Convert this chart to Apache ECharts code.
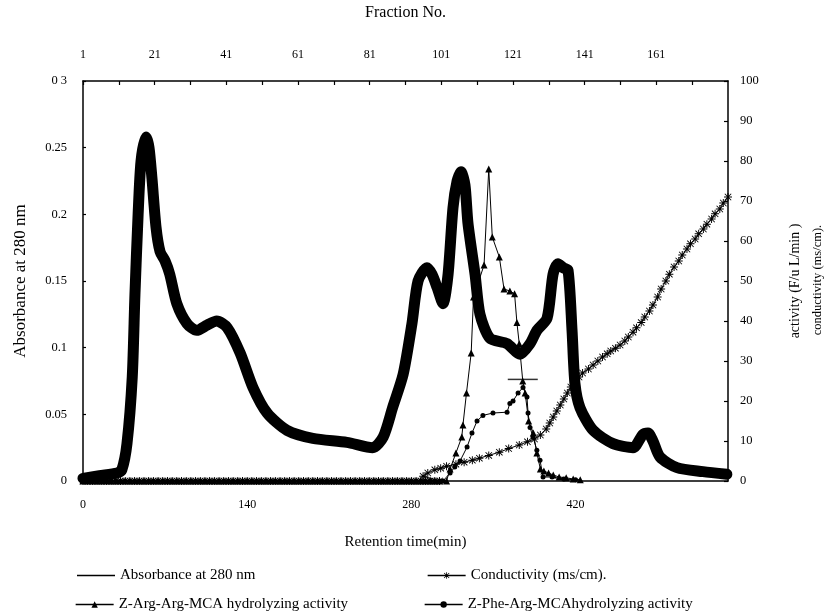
<!DOCTYPE html>
<html><head><meta charset="utf-8">
<script src="https://cdn.jsdelivr.net/npm/echarts@6/dist/echarts.min.js"></script>
<style>html,body{margin:0;padding:0;background:#fff}#c{width:830px;height:616px}</style>
</head><body><div id="c"></div>
<script>
// Absorbance at 280 nm (left axis) vs retention time (min)
const absTime  = [0, 14, 29, 33, 37.5, 42, 44.3, 47, 49.5, 53.7, 56.3, 58.8, 62.3, 65.7, 70, 74, 80, 88.7, 97, 106, 114, 123, 134, 145, 157, 174, 196, 225, 247, 256, 264, 273, 280.5, 285.7, 293.3, 297.6, 302, 307, 311.3, 315.5, 319, 322.3, 325.7, 328.3, 334.3, 338.5, 347, 361.6, 372.6, 381.2, 387.1, 395.7, 400.8, 405, 409.3, 413.6, 417, 419.5, 423.8, 435, 452, 469, 477.5, 481.8, 486, 492, 506.5, 528.7, 549];
const absValue = [0.002, 0.004, 0.006, 0.008, 0.028, 0.078, 0.14, 0.2, 0.24, 0.258, 0.25, 0.227, 0.19, 0.172, 0.165, 0.155, 0.133, 0.118, 0.113, 0.117, 0.12, 0.115, 0.096, 0.07, 0.051, 0.038, 0.032, 0.029, 0.025, 0.033, 0.055, 0.08, 0.118, 0.15, 0.16, 0.155, 0.145, 0.133, 0.155, 0.205, 0.225, 0.232, 0.222, 0.193, 0.155, 0.125, 0.107, 0.103, 0.095, 0.103, 0.113, 0.122, 0.155, 0.163, 0.16, 0.158, 0.113, 0.073, 0.055, 0.038, 0.028, 0.025, 0.035, 0.036, 0.03, 0.018, 0.01, 0.007, 0.005];

// Fraction times where activities / conductivity were zero
const zeroTimes = [0, 4, 8, 12, 16, 20, 24, 28, 32, 36, 40, 44, 48, 52, 56, 60, 64, 68, 72, 76, 80, 84, 88, 92, 96, 100, 104, 108, 112, 116, 120, 124, 128, 132, 136, 140, 144, 148, 152, 156, 160, 164, 168, 172, 176, 180, 184, 188, 192, 196, 200, 204, 208, 212, 216, 220, 224, 228, 232, 236, 240, 244, 248, 252, 256, 260, 264, 268, 272, 276, 280, 284, 288, 292, 296, 300, 304];

// Z-Arg-Arg-MCA hydrolyzing activity (right axis)
const argTime  = [310, 313, 318, 323, 324, 327, 331, 333, 342, 346, 349, 355, 359, 364, 368, 370, 372, 375, 377, 380, 384, 387, 390, 393, 397, 401, 406, 412, 418, 424];
const argValue = [0, 3, 7, 11, 14, 22, 32, 46, 54, 78, 61, 56, 48, 47.5, 46.8, 39.6, 34.3, 25, 22, 15, 12, 7, 3, 2.5, 2, 1.5, 1, 0.8, 0.5, 0.3];

// Z-Phe-Arg-MCA hydrolyzing activity (right axis)
const pheTime  = [307, 313, 317, 321.5, 327.5, 331.7, 336, 341, 349.6, 361.6, 364, 366.7, 371, 375.2, 378.6, 379.5, 381.2, 383.7, 387, 389.7, 392.3, 400, 410, 420];
const pheValue = [0, 2, 3.5, 5, 8.5, 12, 15, 16.4, 17, 17.2, 19.4, 20, 22, 23.4, 21, 17, 13.4, 11, 7.7, 5.2, 1, 1, 0.5, 0.3];

// Conductivity (ms/cm) (right axis)
const condTime  = [290, 294, 300, 305, 310, 318, 325, 332, 338, 346, 355, 363, 372, 379, 385, 390, 395, 398, 401, 404, 407, 410, 413, 416, 420, 423, 426, 431, 435, 439, 443, 447, 450, 454, 458, 462, 465, 469, 472, 476, 479, 483, 486, 490, 493, 497, 500, 504, 508, 511, 515, 518, 522, 525, 529, 532, 536, 539, 543, 546, 550];
const condValue = [1.2, 2, 2.8, 3.2, 3.7, 4.2, 4.7, 5.2, 5.7, 6.4, 7.2, 8.1, 9, 9.8, 10.5, 11.5, 13, 14.5, 16, 17.5, 19, 20.5, 22, 23.5, 25, 26, 27, 28, 29, 30, 31, 31.8, 32.5, 33.2, 34, 35, 36, 37.2, 38.3, 39.6, 41, 42.5, 44, 46, 48, 50, 51.7, 53.5, 55, 56.5, 58, 59.3, 60.5, 61.8, 63, 64.2, 65.5, 66.8, 68, 69.5, 71];

// Marker cross near the activity peak
const crossMark = [[375, 25.4]];

// Axis tick labels
const timeTickLabels = ['0', '140', '280', '420'];
const fractionTickLabels = ['1', '21', '41', '61', '81', '101', '121', '141', '161'];
const absTickLabels = ['0', '0.05', '0.1', '0.15', '0.2', '0.25', '0 3'];
const actTickLabels = ['0', '10', '20', '30', '40', '50', '60', '70', '80', '90', '100'];

const names = ['Absorbance at 280 nm', 'Conductivity (ms/cm).', 'Z-Arg-Arg-MCA hydrolyzing activity', 'Z-Phe-Arg-MCAhydrolyzing activity'];

const pair = (t, v) => t.map((x, i) => [x, v[i]]);
const FONT = 'Liberation Serif';
const asterisk = 'path://M4.4,0L5.6,0L5.6,10L4.4,10Z M0.6,1.4L1.4,0.6L9.4,8.6L8.6,9.4Z M8.6,0.6L9.4,1.4L1.4,9.4L0.6,8.6Z M0,4.4L10,4.4L10,5.6L0,5.6Z';

const chart = echarts.init(document.getElementById('c'), null, {renderer: 'canvas'});
const lblText = {fontFamily: FONT, fontSize: 15, color: '#000'};
const mkLegend = (data, left, top, extra) => Object.assign({
  data: data, left: left, top: top, orient: 'horizontal',
  itemWidth: 38, itemHeight: 8, itemGap: 4,
  textStyle: lblText, lineStyle: {width: 1.3}, padding: 0
}, extra || {});
const axLine = {show: true, onZero: false, lineStyle: {color: '#000', width: 1.5}};

chart.setOption({
  animation: false,
  backgroundColor: '#fff',
  textStyle: {fontFamily: FONT, color: '#000'},
  grid: {left: 83, right: 102, top: 79, bottom: 135, containLabel: false},
  legend: [
    mkLegend([{name: names[0], icon: 'rect'}], 77, 568, {itemHeight: 1.3, itemStyle: {color: '#000'}}),
    mkLegend([names[1]], 427, 568),
    mkLegend([names[2]], 75, 597),
    mkLegend([names[3]], 424, 597)
  ],
  graphic: [{
    type: 'text', x: 818, y: 280, rotation: Math.PI / 2,
    style: {text: 'conductivity (ms/cm).', font: '12.5px "Liberation Serif"', fill: '#000', align: 'center', verticalAlign: 'middle'}
  }],
  xAxis: [
    {
      type: 'value', position: 'bottom', min: 0, max: 550, interval: 140,
      name: 'Retention time(min)', nameLocation: 'middle', nameGap: 54,
      nameTextStyle: {fontFamily: FONT, fontSize: 15, color: '#000'},
      axisLine: axLine,
      axisTick: {show: false},
      splitLine: {show: false},
      axisLabel: {
        margin: 18, fontFamily: FONT, fontSize: 12, color: '#000', showMaxLabel: false,
        formatter: v => timeTickLabels[Math.round(v / 140)] || ''
      }
    },
    {
      type: 'value', position: 'top', min: 0, max: 180, interval: 10,
      name: 'Fraction No.', nameLocation: 'middle', nameGap: 60,
      nameTextStyle: {fontFamily: FONT, fontSize: 16, color: '#000'},
      axisLine: axLine,
      axisTick: {show: true, inside: true, length: 4, lineStyle: {color: '#000', width: 1.2}},
      splitLine: {show: false},
      axisLabel: {
        margin: 20, fontFamily: FONT, fontSize: 12, color: '#000', showMaxLabel: false,
        formatter: v => (v % 20 === 0 && v < 180) ? fractionTickLabels[v / 20] : ''
      }
    }
  ],
  yAxis: [
    {
      type: 'value', position: 'left', min: 0, max: 0.3, interval: 0.05,
      name: 'Absorbance at 280 nm', nameLocation: 'middle', nameGap: 54, nameRotate: 90,
      nameTextStyle: {fontFamily: FONT, fontSize: 17, color: '#000'},
      axisLine: axLine,
      axisTick: {show: true, inside: true, length: 3, lineStyle: {color: '#000', width: 1.2}},
      splitLine: {show: false},
      axisLabel: {
        margin: 16, fontFamily: FONT, fontSize: 12.5, color: '#000',
        formatter: v => absTickLabels[Math.round(v / 0.05)]
      }
    },
    {
      type: 'value', position: 'right', min: 0, max: 100, interval: 10,
      name: 'activity (F/u L/min )', nameLocation: 'middle', nameGap: 60, nameRotate: 90,
      nameTextStyle: {fontFamily: FONT, fontSize: 14, color: '#000'},
      axisLine: axLine,
      axisTick: {show: true, inside: true, length: 4, lineStyle: {color: '#000', width: 1.2}},
      splitLine: {show: false},
      axisLabel: {
        margin: 12, fontFamily: FONT, fontSize: 12.5, color: '#000',
        formatter: v => actTickLabels[Math.round(v / 10)]
      }
    }
  ],
  series: [
    {
      name: names[0], type: 'line', xAxisIndex: 0, yAxisIndex: 0,
      data: pair(absTime, absValue), symbol: 'none', smooth: 0.25, clip: false,
      lineStyle: {color: '#000', width: 11, cap: 'round', join: 'round'},
      itemStyle: {color: '#000'}, z: 2
    },
    {
      name: names[1], type: 'line', xAxisIndex: 0, yAxisIndex: 1,
      data: pair(zeroTimes.concat(condTime), zeroTimes.map(() => 0).concat(condValue)),
      symbol: asterisk, symbolSize: 8, showAllSymbol: true, clip: false,
      lineStyle: {color: '#000', width: 1}, itemStyle: {color: '#000'}, z: 3
    },
    {
      name: names[2], type: 'line', xAxisIndex: 0, yAxisIndex: 1,
      data: pair(zeroTimes.concat(argTime), zeroTimes.map(() => 0).concat(argValue)),
      symbol: 'triangle', symbolSize: 7, showAllSymbol: true, clip: false,
      lineStyle: {color: '#000', width: 1}, itemStyle: {color: '#000'}, z: 4
    },
    {
      name: names[3], type: 'line', xAxisIndex: 0, yAxisIndex: 1,
      data: pair(zeroTimes.concat(pheTime), zeroTimes.map(() => 0).concat(pheValue)),
      symbol: 'circle', symbolSize: 5, showAllSymbol: true, clip: false,
      lineStyle: {color: '#000', width: 1}, itemStyle: {color: '#000'}, z: 4
    },
    {
      name: 'cross', type: 'scatter', xAxisIndex: 0, yAxisIndex: 1,
      data: crossMark, symbol: 'rect', symbolSize: [30, 1.5],
      itemStyle: {color: '#000'}, z: 5
    }
  ]
});
</script>
</body></html>
